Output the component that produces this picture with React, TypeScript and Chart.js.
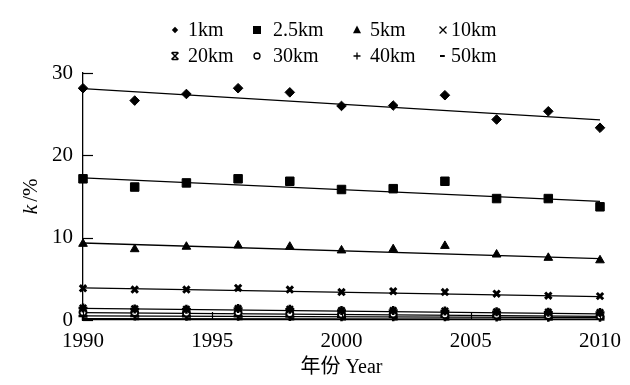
import React, { useEffect, useRef } from "react";
import { Chart, registerables } from "chart.js";
Chart.register(...registerables);

const years = [1990, 1992, 1994, 1996, 1998, 2000, 2002, 2004, 2006, 2008, 2010];
const seriesNames = ["1km", "2.5km", "5km", "10km", "20km", "30km", "40km", "50km"];
const k1 = [28.15, 26.65, 27.45, 28.15, 27.65, 26.0, 26.05, 27.3, 24.35, 25.35, 23.35];
const k25 = [17.15, 16.15, 16.65, 17.15, 16.85, 15.85, 15.95, 16.85, 14.75, 14.75, 13.75];
const k5 = [9.25, 8.6, 8.9, 9.05, 8.9, 8.45, 8.6, 9.0, 7.95, 7.55, 7.25];
const k10 = [3.85, 3.7, 3.7, 3.9, 3.7, 3.4, 3.5, 3.4, 3.2, 2.95, 2.9];
const k20 = [1.45, 1.35, 1.3, 1.4, 1.3, 1.15, 1.15, 1.1, 1.0, 0.95, 0.9];
const k30 = [0.95, 0.9, 0.85, 0.9, 0.8, 0.7, 0.72, 0.65, 0.6, 0.55, 0.5];
const k40 = [0.5, 0.48, 0.45, 0.47, 0.42, 0.4, 0.4, 0.38, 0.35, 0.33, 0.32];
const k50 = [0.15, 0.15, 0.14, 0.15, 0.13, 0.12, 0.12, 0.11, 0.11, 0.1, 0.1];
const seriesValues = [k1, k25, k5, k10, k20, k30, k40, k50];
const trendStart = [28.1, 17.25, 9.35, 3.9, 1.4, 0.9, 0.5, 0.15];
const trendEnd = [24.3, 14.4, 7.45, 2.85, 0.75, 0.45, 0.3, 0.1];
const xTickValues = [1990, 1995, 2000, 2005, 2010];
const yTickValues = [0, 10, 20, 30];
const xTitleCn = "年份";
const xTitleEn = "Year";
const yTitleItalic = "k";
const yTitleRest = "/%";

const pointStyles = ["rectRot", "rect", "triangle", "crossRot", "star", "circle", "cross", "dash"];
const pointRadii = [4.8, 6, 5, 4.5, 4.5, 3.5, 4.5, 4.5];
const pointBorderWidths = [1, 1, 1, 3, 2.5, 2, 2.5, 3];
const pointBgs = ["#000", "#000", "#000", "#000", "#000", "#fff", "#000", "#000"];

const SERIF = "'Liberation Serif', 'Times New Roman', 'Noto Sans CJK SC', serif";

function drawMarker(ctx: CanvasRenderingContext2D, style: string, x: number, y: number, r: number) {
  ctx.save();
  ctx.fillStyle = "#000";
  ctx.strokeStyle = "#000";
  ctx.lineWidth = 1.3;
  ctx.beginPath();
  switch (style) {
    case "rectRot":
      ctx.moveTo(x, y - r); ctx.lineTo(x + r, y); ctx.lineTo(x, y + r); ctx.lineTo(x - r, y); ctx.closePath(); ctx.fill();
      break;
    case "rect":
      ctx.rect(x - r, y - r, 2 * r, 2 * r); ctx.fill();
      break;
    case "triangle":
      ctx.moveTo(x, y - r * 1.1); ctx.lineTo(x + r, y + r * 0.8); ctx.lineTo(x - r, y + r * 0.8); ctx.closePath(); ctx.fill();
      break;
    case "crossRot":
      ctx.moveTo(x - r, y - r); ctx.lineTo(x + r, y + r); ctx.moveTo(x + r, y - r); ctx.lineTo(x - r, y + r); ctx.stroke();
      break;
    case "star":
      ctx.lineWidth = 1.6;
      ctx.moveTo(x - r, y - r); ctx.lineTo(x + r, y + r); ctx.moveTo(x + r, y - r); ctx.lineTo(x - r, y + r);
      ctx.moveTo(x - r * 0.8, y - r); ctx.lineTo(x + r * 0.8, y - r);
      ctx.moveTo(x - r * 0.8, y + r); ctx.lineTo(x + r * 0.8, y + r);
      ctx.stroke();
      break;
    case "circle":
      ctx.fillStyle = "#fff";
      ctx.arc(x, y, r, 0, Math.PI * 2); ctx.fill(); ctx.stroke();
      break;
    case "cross":
      ctx.moveTo(x - r, y); ctx.lineTo(x + r, y); ctx.moveTo(x, y - r); ctx.lineTo(x, y + r); ctx.stroke();
      break;
    case "dash":
      ctx.lineWidth = 2;
      ctx.moveTo(x - r, y); ctx.lineTo(x + r * 0.6, y); ctx.stroke();
      break;
  }
  ctx.restore();
}

const decorPlugin = {
  id: "decor",
  afterDraw(chart: any) {
    const { ctx, chartArea, scales } = chart;
    const xs = scales.x;
    const ys = scales.y;
    ctx.save();
    ctx.strokeStyle = "#000";
    ctx.lineWidth = 1.2;
    // inward tick marks
    xs.ticks.forEach((t: any) => {
      const px = Math.round(xs.getPixelForValue(t.value)) + 0.5;
      ctx.beginPath();
      ctx.moveTo(px, chartArea.bottom);
      ctx.lineTo(px, chartArea.bottom - 8);
      ctx.stroke();
    });
    ys.ticks.forEach((t: any) => {
      const py = Math.round(ys.getPixelForValue(t.value)) + 0.5;
      ctx.beginPath();
      ctx.moveTo(chartArea.left, py);
      ctx.lineTo(chartArea.left + 10, py);
      ctx.stroke();
    });

    // legend
    const markerX = [175, 257, 357, 443];
    const textX = [188, 273, 370, 451];
    const rowY = [30, 56];
    const legendR = [3.2, 4, 4, 3.5, 3.5, 3, 3.5, 3];
    ctx.font = `20px ${SERIF}`;
    ctx.fillStyle = "#000";
    ctx.textBaseline = "middle";
    ctx.textAlign = "left";
    seriesNames.forEach((name, i) => {
      const col = i % 4;
      const row = Math.floor(i / 4);
      drawMarker(ctx, pointStyles[i], markerX[col], rowY[row], legendR[i]);
      ctx.fillText(name, textX[col], rowY[row] + 1);
    });

    // x title
    ctx.font = `20px ${SERIF}`;
    const full = `${xTitleCn} ${xTitleEn}`;
    const cx = (chartArea.left + chartArea.right) / 2;
    ctx.textAlign = "center";
    ctx.textBaseline = "middle";
    ctx.fillText(full, cx, 368);

    // y title (rotated, italic k)
    const cy = (chartArea.top + chartArea.bottom) / 2;
    ctx.translate(31, cy);
    ctx.rotate(-Math.PI / 2);
    ctx.textAlign = "left";
    ctx.font = `italic 22px ${SERIF}`;
    const w1 = ctx.measureText(yTitleItalic).width;
    ctx.font = `21px ${SERIF}`;
    const w2 = ctx.measureText(yTitleRest).width;
    const start = -(w1 + w2 + 3) / 2;
    ctx.font = `italic 22px ${SERIF}`;
    ctx.fillText(yTitleItalic, start, 0);
    ctx.font = `21px ${SERIF}`;
    ctx.fillText(yTitleRest, start + w1 + 3, 0);
    ctx.restore();
  },
};

export default function App() {
  const ref = useRef<HTMLCanvasElement | null>(null);
  useEffect(() => {
    if (!ref.current) return;
    const datasets: any[] = [];
    seriesValues.forEach((vals, i) => {
      datasets.push({
        type: "line",
        label: seriesNames[i] + " trend",
        data: [
          { x: years[0], y: trendStart[i] },
          { x: years[years.length - 1], y: trendEnd[i] },
        ],
        borderColor: "#000",
        borderWidth: 1.3,
        pointRadius: 0,
        showLine: true,
        fill: false,
        clip: false,
        order: 2,
      });
    });
    seriesValues.forEach((vals, i) => {
      datasets.push({
        type: "scatter",
        label: seriesNames[i],
        data: years.map((yr, j) => ({ x: yr, y: vals[j] })),
        pointStyle: pointStyles[i],
        pointRadius: pointRadii[i],
        pointBorderWidth: pointBorderWidths[i],
        pointBackgroundColor: pointBgs[i],
        pointBorderColor: "#000",
        showLine: false,
        clip: false,
        order: 1,
      });
    });
    const chart = new Chart(ref.current, {
      type: "scatter",
      data: { datasets },
      options: {
        animation: false,
        responsive: false,
        devicePixelRatio: 1,
        layout: { padding: { top: 73, right: 29, left: 0, bottom: 0 } },
        plugins: { legend: { display: false }, tooltip: { enabled: false } },
        scales: {
          x: {
            type: "linear",
            min: 1990,
            max: 2010,
            afterBuildTicks: (s: any) => {
              s.ticks = xTickValues.map((v) => ({ value: v }));
            },
            afterFit: (s: any) => {
              s.height = 65;
            },
            ticks: {
              color: "#000",
              font: { family: SERIF, size: 21 },
              padding: 9,
              callback: (v: any) => String(v),
            },
            grid: { display: false, drawTicks: false },
            border: { display: true, color: "#000", width: 1.3 },
          },
          y: {
            type: "linear",
            min: 0,
            max: 30,
            afterBuildTicks: (s: any) => {
              s.ticks = yTickValues.map((v) => ({ value: v }));
            },
            afterFit: (s: any) => {
              s.width = 83;
            },
            ticks: {
              color: "#000",
              font: { family: SERIF, size: 21 },
              padding: 10,
              callback: (v: any) => String(v),
            },
            grid: { display: false, drawTicks: false },
            border: { display: true, color: "#000", width: 1.3 },
          },
        },
      },
      plugins: [decorPlugin],
    });
    return () => chart.destroy();
  }, []);
  return (
    <div style={{ position: "absolute", left: 0, top: 0, width: 630, height: 385, background: "#fff" }}>
      <canvas ref={ref} width={630} height={385} />
    </div>
  );
}
